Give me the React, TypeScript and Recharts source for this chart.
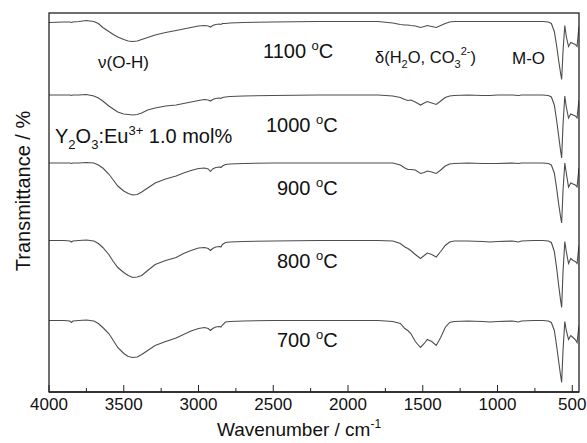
import React from "react"
import { LineChart, Line, XAxis, YAxis } from "recharts"

// wavenumber grid, cm-1 (descending)
const wavenumbers = [
  4000, 3900, 3860, 3850, 3840, 3800, 3750, 3700, 3670, 3640,
  3600, 3570, 3540, 3500, 3470, 3440, 3410, 3380, 3340, 3290,
  3220, 3150, 3100, 3050, 3000, 2960, 2935, 2920, 2905, 2885,
  2860, 2850, 2840, 2820, 2790, 2700, 2500, 2200, 2000, 1800,
  1700, 1650, 1620, 1600, 1580, 1550, 1515, 1490, 1470, 1440,
  1410, 1380, 1350, 1320, 1290, 1200, 1100, 1050, 1000, 900,
  860, 840, 760, 700, 660, 640, 620, 605, 590, 578,
  571, 562, 550, 540, 525, 510, 495, 480, 468, 455,
]

// absorption depth below each curve's baseline (a.u.)
const depth700 = [
  0, 0, 0.5, 2, 0.5, 0, -0.5, 0.5, 3, 7,
  13, 20, 27, 33, 36, 37, 36.5, 34, 30, 25,
  21, 17.5, 14, 10.5, 8, 7, 8, 10, 8, 6.5,
  6, 6.5, 4.5, 1.5, 1, 0.5, 0, 0, 0, 0,
  1, 3, 8, 10, 13, 21, 27, 23, 19, 21,
  25, 17, 7, 2, 1, 0.5, 1, 1.5, 1, 0.5,
  1.5, 0.5, 0, 0, 0.5, 2, 10, 25, 42, 55,
  62, 30, 1, 10, 19, 15, 17, 19, 22, 5,
]
const depth800 = [
  0, 0, 0.5, 1.5, 0.5, 0, -0.5, 0.5, 3, 7,
  14, 21, 27, 32, 35, 37, 36.5, 35, 30, 24,
  20, 17, 13, 10, 7.5, 7, 8, 10, 8, 6.5,
  6, 6.5, 4, 2, 1.5, 1, 0.5, 0, 0, 0,
  0.5, 3, 6.5, 8, 10, 14, 18, 15, 12.5, 14,
  16.5, 11, 5, 1.5, 0.5, 0.5, 1, 1.5, 1, 0.5,
  1.5, 0.5, 0, 0, 0.5, 2, 11, 27, 46, 60,
  67, 32, 1, 11, 23, 18, 20, 21, 23, 5,
]
const depth900 = [
  0, 0, 0, 0.5, 0, 0, -0.5, 0, 2, 5,
  11, 17, 23, 28, 30.5, 32, 31.5, 29, 25, 20,
  16, 13, 10, 7.5, 5.5, 5, 6, 8.5, 6, 4.5,
  4, 4.5, 3, 1.5, 1, 0.5, 0, 0, 0, 0,
  0, 2, 5, 6.5, 6.5, 7, 10.5, 9.5, 8, 9,
  10.5, 7, 3, 1, 0.5, 0, 0.5, 0.5, 0.5, 0,
  0.5, 0, 0, 0, 0.5, 2, 10, 25, 42, 54,
  60, 28, 0, 10, 24, 20, 21, 22, 24, 5,
]
const depth1000 = [
  0, 0, 0, 0.5, 0, 0, -0.5, 1, 3, 6,
  11, 14, 17, 19, 19.5, 20, 19.5, 18, 15, 13,
  11, 10, 8.5, 7, 5.5, 4.5, 5, 6, 4.5, 3.5,
  3, 3.5, 2.5, 2, 1.5, 1, 0.5, 0, 0, 0,
  1, 2.5, 4.5, 5.5, 5, 7, 10, 8, 6.5, 8,
  9.5, 6, 2.5, 1, 0.5, 0, 0.5, 0.5, 0, 0,
  0.5, 0, 0, 0, 0.5, 2, 10, 25, 42, 56,
  63, 30, 1, 12, 23, 19, 20, 21, 23, 5,
]
const depth1100 = [
  1, 0.5, 0.5, 1, 0.5, 0, -1, 0, 2, 6,
  10, 13, 15.5, 18, 19.5, 20, 19.5, 18, 16, 13.5,
  11, 9, 7.5, 6, 4.5, 4, 4.5, 5.5, 4, 3,
  2.5, 3, 2, 2, 1.5, 1, 0.5, 0, 0, 0,
  1.5, 3, 3.5, 3.5, 4, 4.5, 6, 5, 4, 5,
  6, 4, 2, 0.5, 0, 0, 0, 0, 0, 0,
  0, 0, 0, 0, 0.5, 2, 10, 24, 40, 52,
  58, 30, 4, 15, 25, 21, 22, 23, 25, 5,
]

const temps = ["700", "800", "900", "1000", "1100"]
const baselines = [71.5, 151.5, 229, 297, 370.5]
const depths = [depth700, depth800, depth900, depth1000, depth1100]

const majorTicks = [4000, 3500, 3000, 2500, 2000, 1500, 1000, 500]
const minorTicks = [3750, 3250, 2750, 2250, 1750, 1250, 750]

const data = wavenumbers.map((w, i) => {
  const row: Record<string, number> = { w }
  temps.forEach((t, k) => { row["t" + t] = baselines[k] - depths[k][i] })
  return row
})

const FONT = "'Liberation Sans', Arial, Helvetica, sans-serif"

function Tick(props: any) {
  const { x, y, payload } = props
  const major = majorTicks.includes(payload.value)
  return (
    <g>
      <line x1={x} x2={x} y1={y} y2={y - (major ? 7 : 4)} stroke="#222" strokeWidth={1} />
      {major && (
        <text x={x} y={y + 18} textAnchor="middle" fontSize={17} fontFamily={FONT} fill="#111">
          {payload.value}
        </text>
      )}
    </g>
  )
}

function TempLabel({ x, y, t }: { x: number; y: number; t: string }) {
  return (
    <text x={x} y={y} fontSize={20} fontFamily={FONT} fill="#111">
      {t} <tspan dy={-8} fontSize={13}>o</tspan><tspan dy={8}>C</tspan>
    </text>
  )
}

export default function App() {
  return (
    <div style={{ position: "absolute", left: 0, top: 0, width: 587, height: 443, background: "#fff" }}>
      <LineChart width={587} height={443} data={data} margin={{ top: 13, right: 8, left: 49, bottom: 0 }}>
        <XAxis dataKey="w" type="number" domain={[455, 4000]} reversed allowDataOverflow
          ticks={[...majorTicks, ...minorTicks]} interval={0} height={51}
          tickSize={0} tickMargin={0} tickLine={false} tick={<Tick />}
          axisLine={{ stroke: "#222", strokeWidth: 1.3 }} />
        <YAxis type="number" domain={[0, 379]} width={0} tick={false} tickLine={false}
          axisLine={{ stroke: "#222", strokeWidth: 1.3 }} />
        {temps.map(t => (
          <Line key={t} dataKey={"t" + t} type="linear" stroke="#4d4d4d" strokeWidth={1.1}
            dot={false} isAnimationActive={false} />
        ))}
      </LineChart>
      <svg width={587} height={443} style={{ position: "absolute", left: 0, top: 0, pointerEvents: "none" }}>
        <rect x={49} y={13} width={530} height={379} fill="none" stroke="#222" strokeWidth={1.3} />
        <text x={98} y={68} fontSize={17} fontFamily={FONT} fill="#111">ν(O-H)</text>
        <TempLabel x={263} y={58} t="1100" />
        <text x={375} y={63} fontSize={16.5} fontFamily={FONT} fill="#111">
          δ(H<tspan dy={5} fontSize={11}>2</tspan><tspan dy={-5}>O, CO</tspan>
          <tspan dy={5} fontSize={11}>3</tspan><tspan dy={-13} fontSize={11}>2-</tspan>
          <tspan dy={8}>)</tspan>
        </text>
        <text x={512} y={64} fontSize={17} fontFamily={FONT} fill="#111">M-O</text>
        <TempLabel x={266} y={132} t="1000" />
        <text x={55} y={143} fontSize={20} fontFamily={FONT} fill="#111">
          Y<tspan dy={6} fontSize={13}>2</tspan><tspan dy={-6}>O</tspan>
          <tspan dy={6} fontSize={13}>3</tspan><tspan dy={-6}>:Eu</tspan>
          <tspan dy={-8} fontSize={13}>3+</tspan><tspan dy={8}> 1.0 mol%</tspan>
        </text>
        <TempLabel x={277} y={195} t="900" />
        <TempLabel x={277} y={268} t="800" />
        <TempLabel x={277} y={347} t="700" />
        <text x={217} y={436} fontSize={19} fontFamily={FONT} fill="#111">
          Wavenumber / cm<tspan dy={-8} fontSize={12}>-1</tspan>
        </text>
        <text x={0} y={0} transform="translate(30,191) rotate(-90)" textAnchor="middle"
          fontSize={20} fontFamily={FONT} fill="#111">Transmittance / %</text>
      </svg>
    </div>
  )
}
